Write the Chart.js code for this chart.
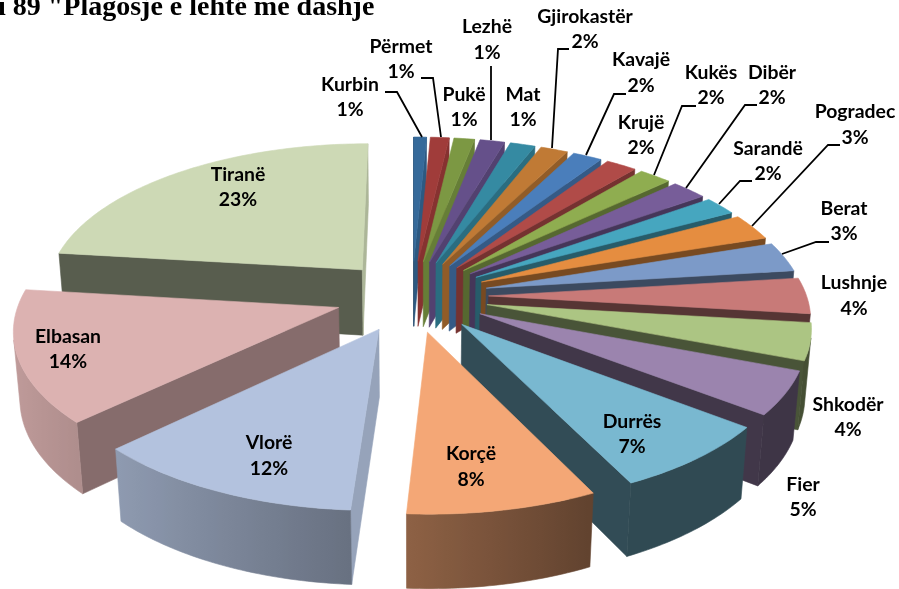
<!DOCTYPE html>
<html>
<head>
<meta charset="utf-8">
<style>html,body{margin:0;padding:0;background:#fff}canvas{display:block}</style>
<script src="https://cdn.jsdelivr.net/npm/chart.js@4"></script>
</head>
<body>
<canvas id="c" width="899" height="589"></canvas>
<script>
const titleText = 'ı 89 "Plagosje e lehtë me dashje';
const categories = ['Kurbin','Përmet','Pukë','Lezhë','Mat','Gjirokastër','Kavajë','Krujë','Kukës','Dibër','Sarandë','Pogradec','Berat','Lushnje','Shkodër','Fier','Durrës','Korçë','Vlorë','Elbasan','Tiranë'];
const percentages = [0.75,1.09,1.2,1.44,1.46,1.6,1.72,1.8,1.9,2.1,1.95,2.8,3.15,3.8,3.9,4.6,7.3,8.2,11.8,14,23];
const sliceColors = ['#366a9a','#a03c3a','#7c9843','#65508a','#358aa2','#c07a35','#4a7ebb','#b04b48','#8fad50','#775d99','#46a6bf','#e58d40','#7c9ac8','#c87a78','#acc583','#9b84ae','#79b8d0','#f4a776','#b3c2de','#dcb2b1','#cdd9b5'];
// label anchor: [centre x, first line y, second line y]
const labelAnchors = [[350,85,110],[401,47,72],[464,95,120],[487,27,53],[523,95,120],[585,17,42],[641,60,86],[641,123,148],[711,73,98],[772,73,98],[768,149,174],[855,112,138],[844,209,234],[854,283,309],[848,405,430],[803,485,510],[632,422,447],[471,454,480],[269,443,469],[68,337,362],[238,175,200]];
const leaderLines = [
 [[385,92],[397,92],[422,137]],
 [[421,78],[433,78],[441,137]],
 [[491,66],[491,140]],
 [[569,49],[558,49],[552,148]],
 [[626,94],[614,94],[586,155]],
 [[696,106],[682,106],[654,175]],
 [[757,105],[745,105],[686,188]],
 [[752,181],[740,181],[719,204]],
 [[840,145],[828,145],[752,226]],
 [[829,242],[816,242],[782,254]]
];

const VIEW = {S:318, c:0.467, s:0.884, D:6.9, H:0.24};
function proj(cx,cy,X,Y,Z){
  const den = 1 - (VIEW.s/VIEW.D)*Y - (VIEW.c/VIEW.D)*Z;
  return [cx + VIEW.S*X/den, cy + VIEW.S*(Y*VIEW.c - Z*VIEW.s)/den];
}
function ramp(table,v){
  if(v<=table[0][0]) return table[0][1];
  for(let i=1;i<table.length;i++){
    if(v<=table[i][0]){
      const t=(v-table[i-1][0])/(table[i][0]-table[i-1][0]);
      return table[i-1][1]+t*(table[i][1]-table[i-1][1]);
    }
  }
  return table[table.length-1][1];
}
const radialShade = [[-1,.41],[-.12,.43],[.68,.6],[1,.84]];
const outerShade = [[-1,.88],[-.73,.8],[-.06,.58],[.43,.4],[1,.4]];
function shade(hex,f){
  const n=parseInt(hex.slice(1),16);
  return 'rgb('+Math.round((n>>16&255)*f)+','+Math.round((n>>8&255)*f)+','+Math.round((n&255)*f)+')';
}
function poly(ctx,pts,color){
  ctx.beginPath();
  pts.forEach((p,i)=> i?ctx.lineTo(p[0],p[1]):ctx.moveTo(p[0],p[1]));
  ctx.closePath();
  ctx.fillStyle=color; ctx.strokeStyle=color; ctx.lineWidth=.6;
  ctx.fill(); ctx.stroke();
}
const pie3d = {
  id:'pie3d',
  beforeDatasetsDraw(chart){
    const ctx=chart.ctx, arcs=chart.getDatasetMeta(0).data;
    const cam=[0,VIEW.D*VIEW.s,VIEW.D*VIEW.c];
    const items=arcs.map(a=>{
      const p=a.getProps(['x','y','startAngle','endAngle','outerRadius']);
      const t0=p.startAngle+Math.PI/2, t1=p.endAngle+Math.PI/2, tm=(t0+t1)/2;
      const e=a.options.offset/p.outerRadius;
      return {cx:p.x,cy:p.y,t0,t1,tm,e,color:a.options.backgroundColor};
    }).sort((u,v)=>(-Math.cos(u.tm))-(-Math.cos(v.tm)));
    for(const it of items){
      const ox=it.e*Math.sin(it.tm), oy=-it.e*Math.cos(it.tm);
      const P=(r,t,z)=>proj(it.cx,it.cy,ox+r*Math.sin(t),oy-r*Math.cos(t),z);
      const W=(r,t)=>[ox+r*Math.sin(t),oy-r*Math.cos(t)];
      const n=Math.max(2,Math.ceil((it.t1-it.t0)/(Math.PI/180)));
      const H=-VIEW.H;
      const vis=(nx,ny,w)=>nx*(cam[0]-w[0])+ny*(cam[1]-w[1])>0;
      // radial faces
      const faces=[[it.t0,-Math.cos(it.t0),-Math.sin(it.t0)],[it.t1,Math.cos(it.t1),Math.sin(it.t1)]];
      for(const [t,nx,ny] of faces){
        if(vis(nx,ny,W(1,t))){
          poly(ctx,[P(0,t,0),P(1,t,0),P(1,t,H),P(0,t,H)],shade(it.color,ramp(radialShade,nx)));
        }
      }
      // curved rim: one polygon with a horizontal gradient
      const run=[];
      for(let i=0;i<=n;i++){
        const t=it.t0+(it.t1-it.t0)*i/n;
        if(vis(Math.sin(t),-Math.cos(t),W(1,t))) run.push(t);
      }
      if(run.length>1){
        const tops=run.map(t=>P(1,t,0)), bots=run.map(t=>P(1,t,H));
        const xs=tops.concat(bots).map(p=>p[0]);
        const x0=Math.min(...xs), x1=Math.max(...xs);
        const g=ctx.createLinearGradient(x0,0,x1,0);
        const stops=run.map((t,i)=>[(tops[i][0]-x0)/(x1-x0),t]).sort((a,b)=>a[0]-b[0]);
        stops.forEach(([f,t])=>g.addColorStop(Math.min(1,Math.max(0,f)),shade(it.color,ramp(outerShade,Math.sin(t)))));
        poly(ctx,tops.concat(bots.reverse()),g);
      }
      // top
      const top=[P(0,0,0)];
      for(let i=0;i<=n;i++) top.push(P(1,it.t0+(it.t1-it.t0)*i/n,0));
      poly(ctx,top,it.color);
    }
    return false;
  },
  afterDraw(chart){
    const ctx=chart.ctx, vals=chart.data.datasets[0].data;
    ctx.save();
    ctx.strokeStyle='#000'; ctx.lineWidth=1.8; ctx.lineJoin='miter';
    for(const l of leaderLines){
      ctx.beginPath();
      l.forEach((p,i)=>i?ctx.lineTo(p[0],p[1]):ctx.moveTo(p[0],p[1]));
      ctx.stroke();
    }
    ctx.fillStyle='#000'; ctx.textAlign='center'; ctx.textBaseline='middle';
    ctx.font='bold 19.4px Lato';
    chart.data.labels.forEach((name,i)=>{
      const a=labelAnchors[i];
      ctx.fillText(name,a[0],a[1]);
      ctx.fillText(Math.round(vals[i])+'%',a[0],a[2]);
    });
    ctx.textAlign='left'; ctx.textBaseline='alphabetic';
    ctx.font='bold 28px "Liberation Serif"';
    ctx.fillText(titleText,-2,15);
    ctx.restore();
  }
};
new Chart(document.getElementById('c'),{
  type:'pie',
  data:{labels:categories,datasets:[{data:percentages,backgroundColor:sliceColors,borderWidth:0,offset:63}]},
  options:{
    responsive:false,animation:false,
    layout:{padding:{left:0,right:75,top:3,bottom:0}},
    plugins:{legend:{display:false},tooltip:{enabled:false},title:{display:false}}
  },
  plugins:[pie3d]
});
</script>
</body>
</html>
